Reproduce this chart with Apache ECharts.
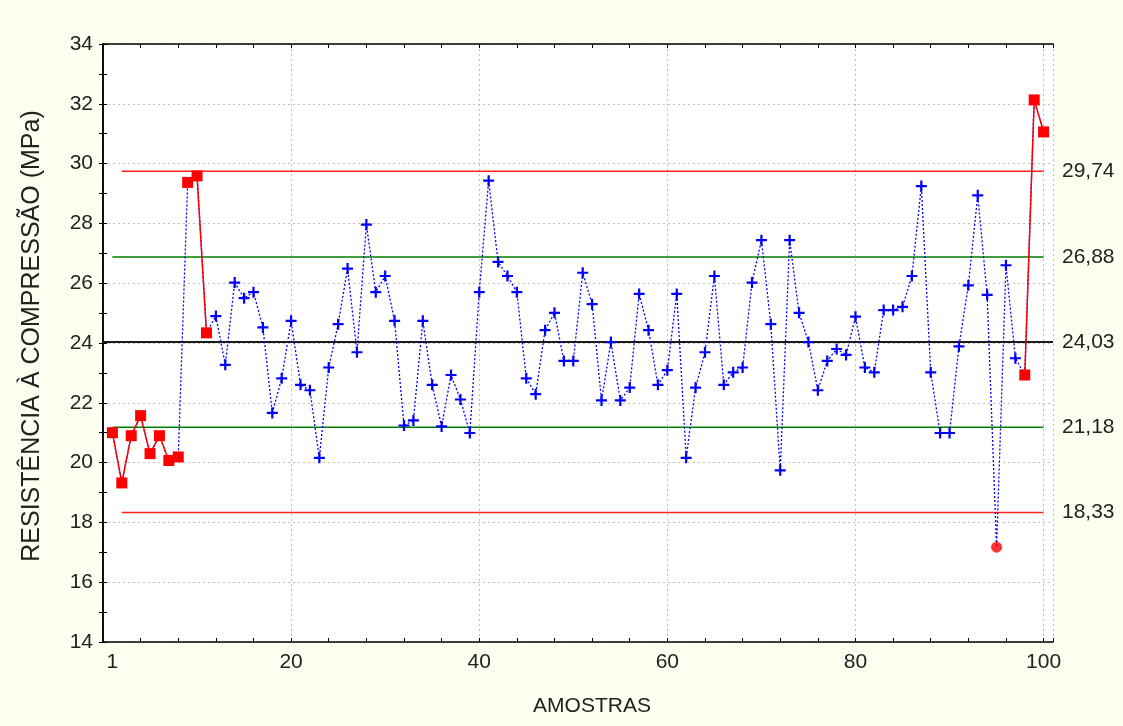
<html>
  <head>
    <meta charset="utf-8">
    <script src="https://cdn.jsdelivr.net/npm/echarts@6/dist/echarts.min.js"></script>
    <style>
      body { margin: 0; background-color: #fdfdf0; }
      #chart { width: 1123px; height: 726px; }
    </style>
  </head>
  <body>
    <div id="chart"></div>
  </body>
  <script>
    // compressive strength per sample
    var strength = [
      21.00, 19.32, 20.90, 21.57, 20.30, 20.90, 20.07, 20.19, 29.37, 29.59,
      24.34, 24.90, 23.27, 26.02, 25.50, 25.70, 24.52, 21.66, 22.82, 24.74,
      22.60, 22.42, 20.16, 23.18, 24.63, 26.49, 23.69, 27.96, 25.70, 26.24,
      24.74, 21.24, 21.41, 24.74, 22.60, 21.21, 22.93, 22.11, 20.99, 25.70,
      29.43, 26.71, 26.24, 25.70, 22.82, 22.29, 24.43, 25.01, 23.40, 23.40,
      26.35, 25.30, 22.08, 24.03, 22.08, 22.51, 25.64, 24.43, 22.60, 23.09,
      25.64, 20.16, 22.51, 23.69, 26.24, 22.60, 23.02, 23.18, 26.02, 27.44,
      24.63, 19.74, 27.44, 25.01, 24.03, 22.42, 23.40, 23.80, 23.60, 24.88,
      23.18, 23.02, 25.10, 25.10, 25.21, 26.24, 29.25, 23.02, 20.99, 20.99,
      23.89, 25.93, 28.94, 25.61, 17.17, 26.60, 23.49, 22.93, 32.13, 31.06
    ];
    // control limits
    var center = 24.03;
    var warnLimits = [21.18, 26.88];
    var ctrlLimits = [18.33, 29.74];
    var rightLabels = [18.33, 21.18, 24.03, 26.88, 29.74];
    var xLabels = [1, 20, 40, 60, 80, 100];
    // out of control samples: runs drawn as red squares, single red dot
    var redRuns = [[1, 8], [9, 11], [98, 100]];
    var redDots = [95];

    var font = 'Liberation Sans, Arial, sans-serif';

    function isRed(n) {
        if (redDots.indexOf(n) >= 0) return true;
        for (var r of redRuns) {
            if (n >= r[0] && n <= r[1]) return true;
        }
        return false;
    }

    var plus = 'path://M4,0h2v4h4v2h-4v4h-2v-4h-4v-2h4z';

    var blueData = strength.map(function (v, i) {
        var n = i + 1;
        if (isRed(n)) return { value: [n, v], symbol: 'none' };
        return [n, v];
    });

    var series = [];
    // limit lines
    ctrlLimits.forEach(function (l) {
        series.push({ type: 'line', data: [[2, l], [100, l]], symbol: 'none', silent: true,
                      lineStyle: { color: '#ff2020', width: 1.5 }, z: 1 });
    });
    warnLimits.forEach(function (l) {
        series.push({ type: 'line', data: [[1, l], [100, l]], symbol: 'none', silent: true,
                      lineStyle: { color: '#008000', width: 1.5 }, z: 1 });
    });
    series.push({ type: 'line', data: [[0, center], [101, center]], symbol: 'none', silent: true,
                  lineStyle: { color: '#1a1a1a', width: 2 }, z: 1 });
    // all samples, dotted blue
    series.push({
        type: 'line', data: blueData, symbol: plus, symbolSize: 11,
        itemStyle: { color: '#0000ff' },
        lineStyle: { color: '#0000ff', width: 1.3, type: [2, 2] }, z: 2
    });
    // red runs
    redRuns.forEach(function (r) {
        var d = [];
        for (var n = r[0]; n <= r[1]; n++) d.push([n, strength[n - 1]]);
        series.push({ type: 'line', data: d, symbol: 'rect', symbolSize: 11,
                      itemStyle: { color: '#ff0000' },
                      lineStyle: { color: '#ff0000', width: 1.5 }, z: 3 });
    });
    series.push({ type: 'scatter', data: redDots.map(function (n) { return [n, strength[n - 1]]; }),
                  symbol: 'circle', symbolSize: 11, itemStyle: { color: '#ff0000' }, z: 3 });

    var axisLine = { show: true, lineStyle: { color: '#000', width: 1.5 } };
    var tick = { show: true, inside: true, length: 4, lineStyle: { color: '#000' } };
    var grid = { type: [2, 3], color: '#c0c0c0', width: 1 };

    var chart = echarts.init(document.getElementById('chart'));
    chart.setOption({
        backgroundColor: '#fdfdf0',
        animation: false,
        grid: { left: 103, right: 70, top: 44, bottom: 84, show: true,
                backgroundColor: '#fff', borderWidth: 0 },
        xAxis: [{
            type: 'value', min: 0, max: 101, interval: 20, position: 'bottom',
            name: 'AMOSTRAS', nameLocation: 'middle', nameGap: 54,
            nameTextStyle: { fontFamily: font, fontSize: 21, color: '#222', padding: [0, 0, 0, 28] },
            axisLine: axisLine, axisTick: tick,
            minorTick: { show: true, splitNumber: 5, length: 4, lineStyle: { color: '#000' } },
            axisLabel: { customValues: xLabels, fontFamily: font, fontSize: 21, color: '#222', margin: 10 },
            splitLine: { show: true, lineStyle: grid }
        }, {
            type: 'value', min: 0, max: 101, interval: 20, position: 'top',
            axisLine: axisLine, axisTick: tick,
            minorTick: { show: true, splitNumber: 5, length: 4, lineStyle: { color: '#000' } },
            axisLabel: { show: false }, splitLine: { show: false }
        }],
        yAxis: [{
            type: 'value', min: 14, max: 34, interval: 2, position: 'left',
            name: 'RESISTÊNCIA À COMPRESSÃO (MPa)', nameLocation: 'middle', nameGap: 58,
            nameTextStyle: { fontFamily: font, fontSize: 25, color: '#222', padding: [0, 0, 0, 14] },
            axisLine: axisLine, axisTick: tick,
            minorTick: { show: true, splitNumber: 2, length: 4, lineStyle: { color: '#000' } },
            axisLabel: { fontFamily: font, fontSize: 21, color: '#222', margin: 10 },
            splitLine: { show: true, lineStyle: grid }
        }, {
            type: 'value', min: 14, max: 34, interval: 1, position: 'right',
            axisLine: axisLine, axisTick: tick,
            axisLabel: { customValues: rightLabels, fontFamily: font, fontSize: 21, color: '#222', margin: 9,
                         formatter: function (v) { return v.toFixed(2).replace('.', ','); } },
            splitLine: { show: false }
        }],
        series: series
    });
  </script>
</html>
